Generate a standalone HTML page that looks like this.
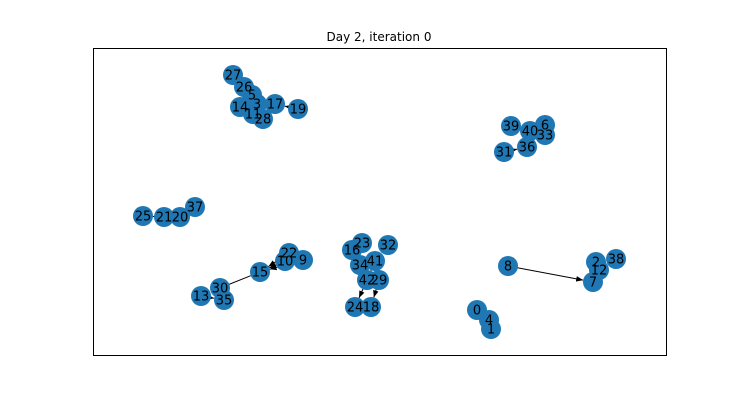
<!DOCTYPE html>
<html><head><meta charset="utf-8"><style>
body{margin:0;background:#fff;}
svg{display:block;font-family:"DejaVu Sans","Liberation Sans",sans-serif;}
</style></head><body>
<svg id="c" width="740" height="400">
<defs><marker id="ah" viewBox="0 0 10 10" refX="10" refY="5" markerWidth="7" markerHeight="7" orient="auto"><path d="M0,1 L10,5 L0,9 z" fill="#000"/></marker></defs>
<rect x="93.5" y="48.5" width="573" height="307" fill="none" stroke="#000" stroke-width="1"/>
<text x="379" y="41" text-anchor="middle" font-size="12">Day 2, iteration 0</text>
<g id="edges"></g><g id="nodes"></g><g id="labels"></g>
</svg>
<script>
const nodeIds=[27,26,5,14,3,11,28,17,19,39,40,6,33,36,31,25,21,20,37,23,16,32,41,34,42,29,24,18,22,9,10,15,30,13,35,8,2,38,12,7,0,4,1];
const nodeX=[233,244,252,240,257,253,263,275,298,511,530,545,545,527,504,143,164,180,195,362,352,388,375,360,367,379,355,371,289,303,285,260,220,201,224,508,596,616,599,593,477,489,491];
const nodeY=[75,87,95,107,104,114,119,104,109,126,131,125,135,147,152,216,217,217,207,243,250,245,261,265,280,280,307,307,253,260,261,272,288,296,300,266,262,259,270,282,310,320,329];
const edgeFrom=[19,42,29,8,22,10,9,30,13,21,20,37,31,26,5,14,11,28,16,34,41,40,6,2,12,0,4];
const edgeTo=[17,24,18,7,15,15,15,15,35,25,21,20,36,5,3,3,3,3,23,41,42,33,33,12,7,4,1];
const noArrow=[30];
const R=10;
const ns="http://www.w3.org/2000/svg";
const pos=id=>{const i=nodeIds.indexOf(id);return [nodeX[i],nodeY[i]];};
const eg=document.getElementById('edges'),ng=document.getElementById('nodes'),lg=document.getElementById('labels');
edgeFrom.forEach((f,k)=>{
 const [x1,y1]=pos(f),[x2,y2]=pos(edgeTo[k]);
 const d=Math.hypot(x2-x1,y2-y1)||1;
 const l=document.createElementNS(ns,'line');
 l.setAttribute('x1',x1);l.setAttribute('y1',y1);
 l.setAttribute('x2',x2-(x2-x1)/d*R);l.setAttribute('y2',y2-(y2-y1)/d*R);
 l.setAttribute('stroke','#000');l.setAttribute('stroke-width','1');
 if(!noArrow.includes(f)) l.setAttribute('marker-end','url(#ah)');
 
 
 eg.appendChild(l);
});
const order=nodeIds.map((id,i)=>i).sort((a,b)=>nodeIds[a]-nodeIds[b]);
order.forEach(i=>{
 const id=nodeIds[i];
 const c=document.createElementNS(ns,'circle');
 c.setAttribute('cx',nodeX[i]);c.setAttribute('cy',nodeY[i]);c.setAttribute('r',R);c.setAttribute('fill','#1f77b4');
 
 
 ng.appendChild(c);
});
order.forEach(i=>{
 const id=nodeIds[i];
 const t=document.createElementNS(ns,'text');
 t.setAttribute('x',nodeX[i]);t.setAttribute('y',nodeY[i]+4.5);t.setAttribute('text-anchor','middle');t.setAttribute('font-size','13');
 
 
 t.textContent=id;
 lg.appendChild(t);
});
</script>
</body></html>
